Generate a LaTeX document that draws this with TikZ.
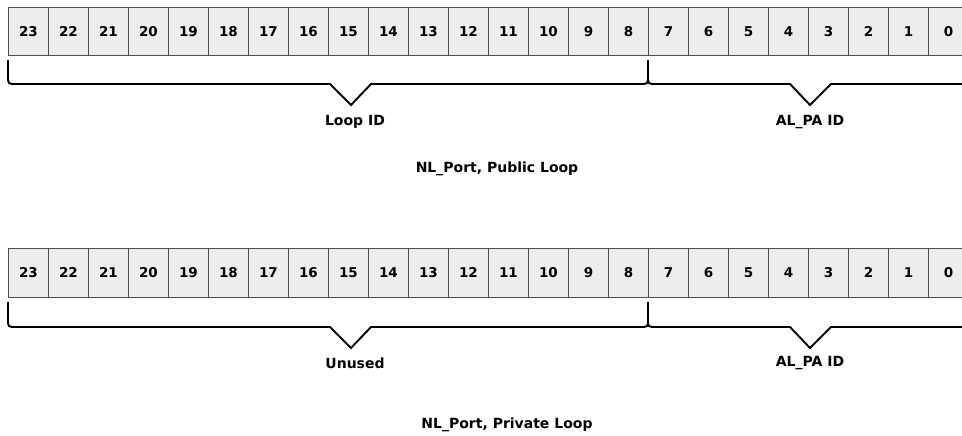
\documentclass[tikz,border=0pt]{standalone}
\usepackage{fontspec}
\setmainfont{DejaVu Sans}
\definecolor{cellfill}{HTML}{EDEDED}
\definecolor{cellline}{HTML}{505050}
\begin{document}
\begin{tikzpicture}[x=1pt,y=-1pt,
  cell/.style={draw=cellline,line width=0.9pt,fill=cellfill,minimum width=40pt,minimum height=48.5pt,inner sep=0pt,anchor=north west,font=\fontsize{13.5}{15}\selectfont\bfseries},
  brace/.style={draw=black,line width=1.9pt,line join=miter},
  lbl/.style={font=\fontsize{14}{16}\selectfont\bfseries,inner sep=0pt}]
\clip (0,0) rectangle (962,436);
\fill[white] (0,0) rectangle (962,436);
% row 1
\foreach \i in {0,...,23}{
  \pgfmathtruncatemacro{\n}{23-\i}
  \node[cell] (a\n) at ({8+40*\i},7) {\n};
}
\draw[brace] (8,60) -- (8,76) .. controls (8,84) .. (16,84) -- (330,84) -- (351,105) -- (371,84) -- (640,84) .. controls (648,84) .. (648,76) -- (648,60);
\draw[brace] (648,70) -- (648,76) .. controls (648,84) .. (656,84) -- (790,84) -- (810,105) -- (831,84) -- (958,84) .. controls (967,84) .. (967,76) -- (967,60);
\node[lbl] (loopid) at (355,122) {Loop ID};
\node[lbl] (alpa1) at (810,122) {AL\_PA ID};
\node[lbl] (cap1) at (497,169) {NL\_Port, Public Loop};
% row 2
\foreach \i in {0,...,23}{
  \pgfmathtruncatemacro{\n}{23-\i}
  \node[cell] (b\n) at ({8+40*\i},248) {\n};
}
\draw[brace] (8,302) -- (8,319) .. controls (8,327) .. (16,327) -- (330,327) -- (351,348) -- (371,327) -- (640,327) .. controls (648,327) .. (648,319) -- (648,302);
\draw[brace] (648,312) -- (648,319) .. controls (648,327) .. (656,327) -- (790,327) -- (810,348) -- (831,327) -- (958,327) .. controls (967,327) .. (967,319) -- (967,302);
\node[lbl] (unused) at (355,363) {Unused};
\node[lbl] (alpa2) at (810,363) {AL\_PA ID};
\node[lbl] (cap2) at (507,425) {NL\_Port, Private Loop};
\end{tikzpicture}
\end{document}
